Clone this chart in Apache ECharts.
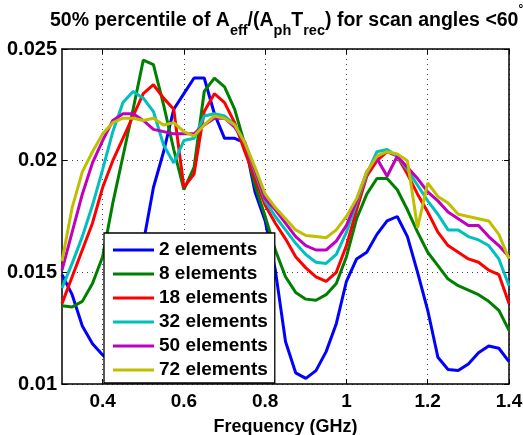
<!DOCTYPE html>
<html>
<head>
<meta charset="utf-8">
<script src="https://cdn.jsdelivr.net/npm/echarts@6/dist/echarts.min.js"></script>
<style>
  html, body { margin: 0; padding: 0; background: #fff; }
  #chart { width: 523px; height: 435px; }
</style>
</head>
<body>
<div id="chart"></div>
<script>
// frequency grid (GHz)
const freq = [0.3, 0.325, 0.35, 0.375, 0.4, 0.425, 0.45, 0.475, 0.5, 0.525,
  0.55, 0.575, 0.6, 0.625, 0.65, 0.675, 0.7, 0.725, 0.75, 0.775,
  0.8, 0.825, 0.85, 0.875, 0.9, 0.925, 0.95, 0.975, 1.0, 1.025,
  1.05, 1.075, 1.1, 1.125, 1.15, 1.175, 1.2, 1.225, 1.25, 1.275,
  1.3, 1.325, 1.35, 1.375, 1.4]

const el2 = [0.0149, 0.0140, 0.0126, 0.0118, 0.0113, 0.0109, 0.0113, 0.0135, 0.0163, 0.0188,
  0.0204, 0.0223, 0.0230, 0.0237, 0.0237, 0.0221, 0.0210, 0.0210, 0.0208, 0.0186,
  0.0173, 0.0151, 0.0119, 0.0105, 0.01025, 0.0106, 0.01145, 0.0127, 0.0146, 0.0156,
  0.0159, 0.0167, 0.0173, 0.0175, 0.0166, 0.0150, 0.0133, 0.0112, 0.01065, 0.0106,
  0.0109, 0.0114, 0.0117, 0.0116, 0.0110]
const el8 = [0.0135, 0.01345, 0.0137, 0.0145, 0.0157, 0.0181, 0.0202, 0.0223, 0.0245, 0.0243,
  0.0225, 0.0205, 0.0187, 0.0197, 0.0231, 0.0237, 0.0233, 0.0223, 0.0207, 0.0189,
  0.0175, 0.0160, 0.0148, 0.0141, 0.0138, 0.01375, 0.0140, 0.0145, 0.0157, 0.0174,
  0.0185, 0.0192, 0.0192, 0.0187, 0.0178, 0.0168, 0.0159, 0.0153, 0.0147, 0.0144,
  0.0142, 0.0140, 0.0137, 0.0133, 0.0124]
const el18 = [0.0136, 0.0148, 0.0160, 0.0172, 0.0188, 0.0200, 0.0210, 0.0220, 0.0230, 0.0234,
  0.0228, 0.0223, 0.0188, 0.0194, 0.0222, 0.0230, 0.0226, 0.0217, 0.0204, 0.0192,
  0.0180, 0.0172, 0.0165, 0.0157, 0.0152, 0.0148, 0.0146, 0.0150, 0.0162, 0.0178,
  0.0193, 0.0200, 0.0204, 0.0202, 0.0194, 0.0185, 0.0177, 0.0168, 0.0162, 0.0159,
  0.0156, 0.01545, 0.0151, 0.0149, 0.0136]
const el32 = [0.0143, 0.0154, 0.0166, 0.0180, 0.0196, 0.0213, 0.0226, 0.0231, 0.0228, 0.0222,
  0.0207, 0.0199, 0.0209, 0.0210, 0.0220, 0.0221, 0.0220, 0.0216, 0.0208, 0.0195,
  0.0182, 0.0175, 0.0169, 0.0163, 0.0158, 0.01545, 0.0154, 0.0158, 0.0168, 0.0181,
  0.0194, 0.0204, 0.0205, 0.0202, 0.0196, 0.0189, 0.0182, 0.0176, 0.0169, 0.0169,
  0.0166, 0.01645, 0.0162, 0.0156, 0.0144]
const el50 = [0.0151, 0.0168, 0.0185, 0.0199, 0.0209, 0.0218, 0.0221, 0.0221, 0.0218, 0.0214,
  0.0213, 0.0212, 0.0212, 0.0212, 0.0216, 0.0219, 0.0219, 0.0215, 0.0208, 0.0196,
  0.0183, 0.0178, 0.0172, 0.0166, 0.0162, 0.0160, 0.0160, 0.0164, 0.0171, 0.0182,
  0.0195, 0.0201, 0.0193, 0.0202, 0.0197, 0.0192, 0.0186, 0.0182, 0.0177, 0.0174,
  0.0171, 0.0171, 0.0166, 0.0162, 0.0157]
const el72 = [0.0155, 0.0179, 0.0195, 0.0204, 0.0212, 0.0217, 0.0219, 0.0219, 0.0218, 0.0219,
  0.0216, 0.0217, 0.0213, 0.0211, 0.0216, 0.0220, 0.0219, 0.0216, 0.0208, 0.0197,
  0.0185, 0.0179, 0.0174, 0.0169, 0.01665, 0.0166, 0.01655, 0.0169, 0.0175, 0.0183,
  0.0195, 0.0202, 0.0204, 0.0203, 0.0200, 0.0170, 0.0190, 0.0184, 0.0181, 0.0176,
  0.0175, 0.0174, 0.0173, 0.0167, 0.0156]

const seriesNames = ['2 elements', '8 elements', '18 elements', '32 elements', '50 elements', '72 elements']
const seriesValues = [el2, el8, el18, el32, el50, el72]
const colors = ['#0000ff', '#008000', '#ff0000', '#00bfbf', '#bf00bf', '#bfbf00']
const xTicks = [0.4, 0.6, 0.8, 1.0, 1.2, 1.4]

const FONT = "'Liberation Sans', Arial, sans-serif"

const chart = echarts.init(document.getElementById('chart'))

const gridLine = { show: true, lineStyle: { color: '#444', width: 1, type: [1, 4] } }
const boxLine = { show: true, onZero: false, lineStyle: { color: '#000', width: 1.5 } }

chart.setOption({
  animation: false,
  backgroundColor: '#fff',
  textStyle: { fontFamily: FONT },
  title: {
    left: 50,
    top: 4,
    padding: 0,
    text: '{m|50% percentile of A}{s|eff}{m|/(A}{s|ph}{m|T}{s|rec}{m|) for scan angles <60}{d|°}',
    textStyle: {
      rich: {
        // main text centred, subscripts pushed to the bottom of a taller line
        m: { fontFamily: FONT, fontSize: 19.5, fontWeight: 'bold', color: '#000', lineHeight: 20, verticalAlign: 'middle' },
        s: { fontFamily: FONT, fontSize: 14.5, fontWeight: 'bold', color: '#000', lineHeight: 34, verticalAlign: 'bottom' },
        d: { fontFamily: FONT, fontSize: 12, fontWeight: 'bold', color: '#000', lineHeight: 2, verticalAlign: 'top' }
      }
    }
  },
  grid: { left: 62, right: 14, top: 49, bottom: 51, containLabel: false, outerBoundsMode: 'none' },
  legend: {
    orient: 'vertical',
    left: 104,
    top: 233,
    padding: [7, 7, 3, 9],
    itemGap: 4,
    itemWidth: 41,
    itemHeight: 3,
    icon: 'rect',
    backgroundColor: '#fff',
    borderColor: '#000',
    borderWidth: 1.3,
    borderRadius: 0,
    textStyle: { fontFamily: FONT, fontSize: 19, fontWeight: 'bold', color: '#000', lineHeight: 20 },
    data: seriesNames
  },
  xAxis: [
    {
      type: 'value',
      min: 0.3,
      max: 1.4,
      position: 'bottom',
      axisLine: boxLine,
      axisTick: { show: true, inside: true, length: 5, customValues: xTicks, lineStyle: { color: '#000' } },
      axisLabel: { customValues: xTicks, fontFamily: FONT, fontSize: 19, fontWeight: 'bold', color: '#000', margin: 8 },
      splitLine: gridLine,
      name: 'Frequency (GHz)',
      nameLocation: 'middle',
      nameGap: 34,
      nameTextStyle: { fontFamily: FONT, fontSize: 18, fontWeight: 'bold', color: '#000' }
    },
    {
      type: 'value',
      min: 0.3,
      max: 1.4,
      position: 'top',
      axisLine: boxLine,
      axisTick: { show: true, inside: true, length: 5, customValues: xTicks, lineStyle: { color: '#000' } },
      axisLabel: { show: false },
      splitLine: { show: false }
    }
  ],
  yAxis: [
    {
      type: 'value',
      min: 0.01,
      max: 0.025,
      interval: 0.005,
      position: 'left',
      axisLine: boxLine,
      axisTick: { show: true, inside: true, length: 5, lineStyle: { color: '#000' } },
      axisLabel: { fontFamily: FONT, fontSize: 20, fontWeight: 'bold', color: '#000', margin: 5, padding: [5, 0, 0, 0] },
      splitLine: gridLine
    },
    {
      type: 'value',
      min: 0.01,
      max: 0.025,
      interval: 0.005,
      position: 'right',
      axisLine: boxLine,
      axisTick: { show: true, inside: true, length: 5, lineStyle: { color: '#000' } },
      axisLabel: { show: false },
      splitLine: { show: false }
    }
  ],
  series: seriesNames.map((name, i) => ({
    name: name,
    type: 'line',
    xAxisIndex: 0,
    yAxisIndex: 0,
    symbol: 'none',
    color: colors[i],
    lineStyle: { width: 3, color: colors[i] },
    data: freq.map((f, j) => [f, seriesValues[i][j]])
  }))
})
</script>
</body>
</html>
